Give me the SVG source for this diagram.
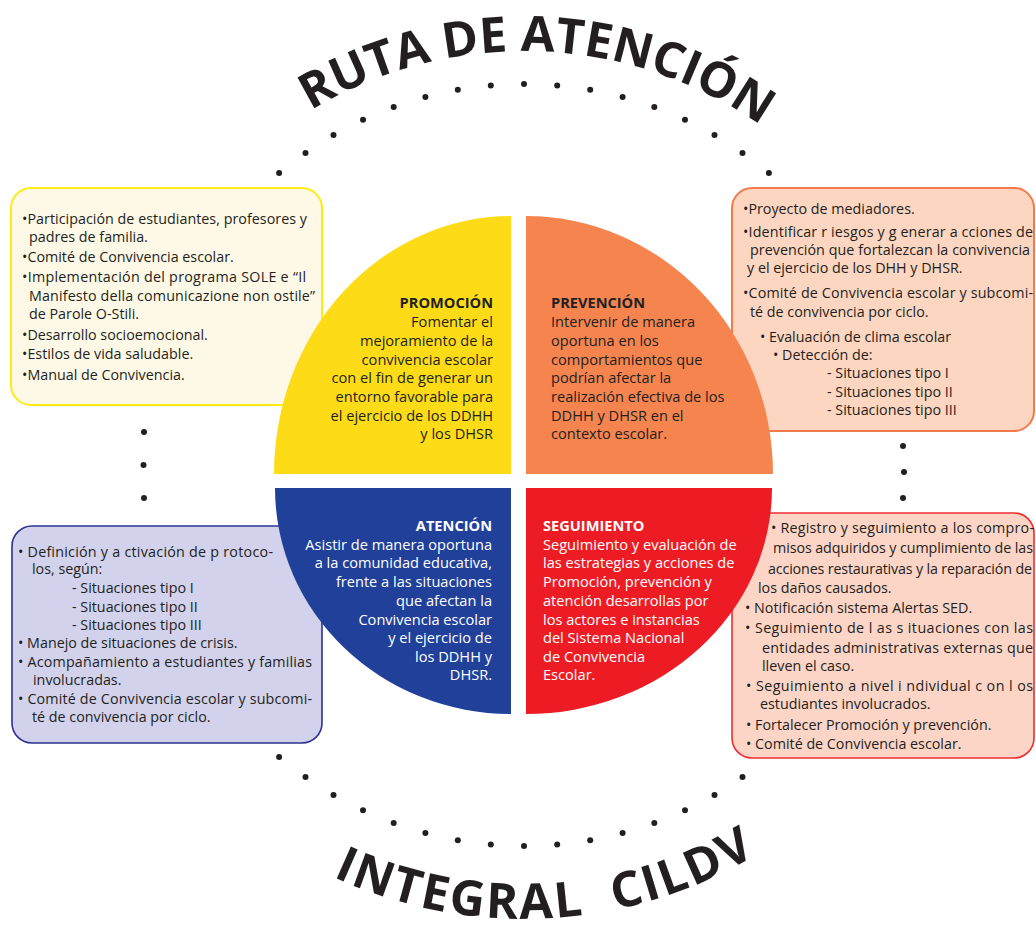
<svg xmlns="http://www.w3.org/2000/svg" width="1036" height="929" viewBox="0 0 1036 929">
<defs>
<style>
.t{font-family:"Open Sans","Noto Sans",sans-serif;font-size:14.3px;fill:#231F20}
.q{font-family:"Open Sans","Noto Sans",sans-serif;font-size:14.6px;fill:#231F20}
.h{font-weight:bold}
.w{fill:#FFFFFF}
.r{text-anchor:end}
.ttl{font-family:"Open Sans","Noto Sans",sans-serif;font-size:49px;font-weight:bold;fill:#231F20}
.dot{fill:#231F20}
</style>
<path id="arcTop" d="M110,465 A414,414 0 0 1 938,465"/>
<path id="arcBot" d="M70,465 A454,454 0 0 0 978,465"/>
</defs>
<rect width="1036" height="929" fill="#FFFFFF"/>

<g id="title-top">
<text class="ttl" text-anchor="middle"><textPath href="#arcTop" startOffset="664">RUTA DE ATENCIÓN</textPath></text>
</g>
<g id="title-bottom">
<text class="ttl" text-anchor="middle" letter-spacing="2.2" xml:space="preserve"><textPath href="#arcBot" startOffset="737">INTEGRAL  CILDV</textPath></text>
</g>

<g id="connectors">
<circle class="dot" cx="279.1" cy="173.1" r="3"/>
<circle class="dot" cx="305.5" cy="152.9" r="3"/>
<circle class="dot" cx="333.5" cy="135" r="3"/>
<circle class="dot" cx="363" cy="119.7" r="3"/>
<circle class="dot" cx="393.7" cy="107" r="3"/>
<circle class="dot" cx="425.4" cy="97" r="3"/>
<circle class="dot" cx="457.8" cy="89.8" r="3"/>
<circle class="dot" cx="490.8" cy="85.4" r="3"/>
<circle class="dot" cx="524" cy="84" r="3"/>
<circle class="dot" cx="557.2" cy="85.4" r="3"/>
<circle class="dot" cx="590.2" cy="89.8" r="3"/>
<circle class="dot" cx="622.6" cy="97" r="3"/>
<circle class="dot" cx="654.3" cy="107" r="3"/>
<circle class="dot" cx="685" cy="119.7" r="3"/>
<circle class="dot" cx="714.5" cy="135" r="3"/>
<circle class="dot" cx="742.5" cy="152.9" r="3"/>
<circle class="dot" cx="768.9" cy="173.1" r="3"/>
<circle class="dot" cx="144" cy="432" r="3"/>
<circle class="dot" cx="143.5" cy="465" r="3"/>
<circle class="dot" cx="144" cy="498" r="3"/>
<circle class="dot" cx="903" cy="446" r="3"/>
<circle class="dot" cx="904" cy="472" r="3"/>
<circle class="dot" cx="903" cy="498" r="3"/>
<circle class="dot" cx="279.1" cy="756.9" r="3"/>
<circle class="dot" cx="305.5" cy="777.1" r="3"/>
<circle class="dot" cx="333.5" cy="795" r="3"/>
<circle class="dot" cx="363" cy="810.3" r="3"/>
<circle class="dot" cx="393.7" cy="823" r="3"/>
<circle class="dot" cx="425.4" cy="833" r="3"/>
<circle class="dot" cx="457.8" cy="840.2" r="3"/>
<circle class="dot" cx="490.8" cy="844.6" r="3"/>
<circle class="dot" cx="524" cy="846" r="3"/>
<circle class="dot" cx="557.2" cy="844.6" r="3"/>
<circle class="dot" cx="590.2" cy="840.2" r="3"/>
<circle class="dot" cx="622.6" cy="833" r="3"/>
<circle class="dot" cx="654.3" cy="823" r="3"/>
<circle class="dot" cx="685" cy="810.3" r="3"/>
<circle class="dot" cx="714.5" cy="795" r="3"/>
<circle class="dot" cx="742.5" cy="777.1" r="3"/>
</g>

<g id="box-promocion">
<rect x="11" y="188" width="311" height="217" rx="20" fill="#FEF9E7" stroke="#FFEB14" stroke-width="2"/>
<text class="t" x="22" y="224" textLength="285" lengthAdjust="spacing">•Participación de estudiantes, profesores y</text>
<text class="t" x="29" y="242">padres de familia.</text>
<text class="t" x="22" y="262">•Comité de Convivencia escolar.</text>
<text class="t" x="22" y="282" textLength="284" lengthAdjust="spacing">•Implementación del programa SOLE e “Il</text>
<text class="t" x="29" y="301" textLength="286" lengthAdjust="spacing">Manifesto della comunicazione non ostile”</text>
<text class="t" x="29" y="319">de Parole O-Stili.</text>
<text class="t" x="22" y="340">•Desarrollo socioemocional.</text>
<text class="t" x="22" y="359">•Estilos de vida saludable.</text>
<text class="t" x="22" y="380">•Manual de Convivencia.</text>
</g>

<g id="box-prevencion">
<rect x="732" y="188" width="302" height="243" rx="20" fill="#FDD6C1" stroke="#F47A4C" stroke-width="2"/>
<text class="t" x="743" y="214">•Proyecto de mediadores.</text>
<text class="t" x="743" y="237" textLength="290" lengthAdjust="spacing">•Identificar r iesgos y g enerar a cciones de</text>
<text class="t" x="750" y="255" textLength="280" lengthAdjust="spacing">prevención que fortalezcan la convivencia</text>
<text class="t" x="747" y="273">y el ejercicio de los DHH y DHSR.</text>
<text class="t" x="743" y="298" textLength="290" lengthAdjust="spacing">•Comité de Convivencia escolar y subcomi-</text>
<text class="t" x="750" y="317">té de convivencia por ciclo.</text>
<text class="t" x="760" y="342">• Evaluación de clima escolar</text>
<text class="t" x="773" y="360">• Detección de:</text>
<text class="t" x="827" y="378">- Situaciones tipo I</text>
<text class="t" x="827" y="397">- Situaciones tipo II</text>
<text class="t" x="827" y="415">- Situaciones tipo III</text>
</g>

<g id="box-atencion">
<rect x="12" y="526" width="310" height="217" rx="20" fill="#D2D2EC" stroke="#2E3192" stroke-width="1.6"/>
<text class="t" x="18" y="557" textLength="255" lengthAdjust="spacing">• Definición y a ctivación de p rotoco-</text>
<text class="t" x="32" y="574">los, según:</text>
<text class="t" x="72" y="593">- Situaciones tipo I</text>
<text class="t" x="72" y="612">- Situaciones tipo II</text>
<text class="t" x="72" y="630">- Situaciones tipo III</text>
<text class="t" x="18" y="648">• Manejo de situaciones de crisis.</text>
<text class="t" x="18" y="667" textLength="294" lengthAdjust="spacing">• Acompañamiento a estudiantes y familias</text>
<text class="t" x="33" y="685">involucradas.</text>
<text class="t" x="18" y="704" textLength="294" lengthAdjust="spacing">• Comité de Convivencia escolar y subcomi-</text>
<text class="t" x="32" y="722">té de convivencia por ciclo.</text>
</g>

<g id="box-seguimiento">
<rect x="732" y="513" width="302" height="245" rx="20" fill="#FCD5C7" stroke="#EE2D30" stroke-width="1.6"/>
<text class="t" x="771" y="533" textLength="263" lengthAdjust="spacing">• Registro y seguimiento a los compro-</text>
<text class="t" x="773" y="553" textLength="260" lengthAdjust="spacing">misos adquiridos y cumplimiento de las</text>
<text class="t" x="768" y="574" textLength="264" lengthAdjust="spacing">acciones restaurativas y la reparación de</text>
<text class="t" x="758" y="593">los daños causados.</text>
<text class="t" x="745" y="613">• Notificación sistema Alertas SED.</text>
<text class="t" x="745" y="633" textLength="288" lengthAdjust="spacing">• Seguimiento de l as s ituaciones con las</text>
<text class="t" x="762" y="653" textLength="271" lengthAdjust="spacing">entidades administrativas externas que</text>
<text class="t" x="762" y="671">lleven el caso.</text>
<text class="t" x="746" y="691" textLength="287" lengthAdjust="spacing">• Seguimiento a nivel i ndividual c on l os</text>
<text class="t" x="760" y="709">estudiantes involucrados.</text>
<text class="t" x="746" y="730">• Fortalecer Promoción y prevención.</text>
<text class="t" x="746" y="749">• Comité de Convivencia escolar.</text>
</g>

<g id="node-promocion">
<path d="M511,474 L274,474 A237,258 0 0 1 511,216 Z" fill="#FDDC17"/>
<text class="q h r" x="493" y="308">PROMOCIÓN</text>
<text class="q r" x="493" y="327">Fomentar el</text>
<text class="q r" x="493" y="346">mejoramiento de la</text>
<text class="q r" x="493" y="365">convivencia escolar</text>
<text class="q r" x="493" y="383">con el fin de generar un</text>
<text class="q r" x="493" y="402">entorno favorable para</text>
<text class="q r" x="493" y="421">el ejercicio de los DDHH</text>
<text class="q r" x="493" y="439">y los DHSR</text>
</g>

<g id="node-prevencion">
<path d="M526,474 L526,216 A247,258 0 0 1 773,474 Z" fill="#F5844F"/>
<text class="q h" x="551" y="308">PREVENCIÓN</text>
<text class="q" x="551" y="327">Intervenir de manera</text>
<text class="q" x="551" y="346">oportuna en los</text>
<text class="q" x="551" y="365">comportamientos que</text>
<text class="q" x="551" y="383">podrían afectar la</text>
<text class="q" x="551" y="402">realización efectiva de los</text>
<text class="q" x="551" y="421">DDHH y DHSR en el</text>
<text class="q" x="551" y="439">contexto escolar.</text>
</g>

<g id="node-atencion">
<path d="M511,488 L511,714 A236,226 0 0 1 275,488 Z" fill="#21409A"/>
<text class="q h w r" x="492" y="531">ATENCIÓN</text>
<text class="q w r" x="492" y="550">Asistir de manera oportuna</text>
<text class="q w r" x="492" y="568">a la comunidad educativa,</text>
<text class="q w r" x="492" y="587">frente a las situaciones</text>
<text class="q w r" x="492" y="606">que afectan la</text>
<text class="q w r" x="492" y="625">Convivencia escolar</text>
<text class="q w r" x="492" y="643">y el ejercicio de</text>
<text class="q w r" x="492" y="662">los DDHH y</text>
<text class="q w r" x="492" y="680">DHSR.</text>
</g>

<g id="node-seguimiento">
<path d="M526,488 L772,488 A246,226 0 0 1 526,714 Z" fill="#ED1C24"/>
<text class="q h w" x="543" y="531">SEGUIMIENTO</text>
<text class="q w" x="543" y="550">Seguimiento y evaluación de</text>
<text class="q w" x="543" y="568">las estrategias y acciones de</text>
<text class="q w" x="543" y="587">Promoción, prevención y</text>
<text class="q w" x="543" y="606">atención desarrollas por</text>
<text class="q w" x="543" y="625">los actores e instancias</text>
<text class="q w" x="543" y="643">del Sistema Nacional</text>
<text class="q w" x="543" y="662">de Convivencia</text>
<text class="q w" x="543" y="680">Escolar.</text>
</g>
</svg>
